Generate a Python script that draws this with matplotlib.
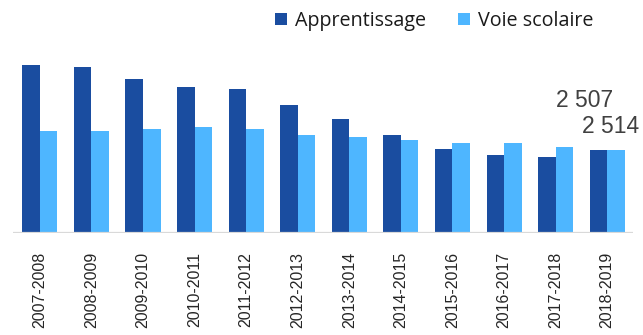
import matplotlib
matplotlib.use("Agg")
import matplotlib.pyplot as plt
import numpy as np

years = ["2007-2008", "2008-2009", "2009-2010", "2010-2011", "2011-2012", "2012-2013",
         "2013-2014", "2014-2015", "2015-2016", "2016-2017", "2017-2018", "2018-2019"]
apprentissage = [5108, 5047, 4682, 4438, 4377, 3899, 3472, 2985, 2559, 2367, 2315, 2507]
voie_scolaire = [3107, 3107, 3168, 3229, 3168, 2976, 2924, 2814, 2741, 2732, 2620, 2514]

dark = "#1A4DA0"
light = "#4EB6FF"

fig = plt.figure(figsize=(6.43, 3.35), dpi=100)
ax = fig.add_axes([13 / 643, 1 - 232.7 / 335, 620 / 643, 197 / 335])

x = np.arange(len(years))
w = 0.34
b1 = ax.bar(x - w / 2, apprentissage, w, color=dark, label="Apprentissage", zorder=2)
b2 = ax.bar(x + w / 2, voie_scolaire, w, color=light, label="Voie scolaire", zorder=2)

ax.set_xlim(-0.52, 11.5)
ax.set_ylim(0, 6000)
ax.axhline(0, color="#d9d9d9", lw=1.6, zorder=3)
for s in ax.spines.values():
    s.set_visible(False)
ax.set_yticks([])
ax.set_xticks(x)
ax.set_xticklabels(years, rotation=90, fontsize=11.5, family="Liberation Sans",
                   color="#262626", va="top")
ax.tick_params(axis="x", length=0, pad=14)

def fmt(v):
    return f"{v:,}".replace(",", " ")

ax.annotate(fmt(apprentissage[-1]), (x[-1] - w / 2, apprentissage[-1]),
            xytext=(-10, 36), textcoords="offset points", ha="center", va="center",
            fontsize=16.5, family="Liberation Sans", color="#404040")
ax.annotate(fmt(voie_scolaire[-1]), (x[-1] + w / 2, voie_scolaire[-1]),
            xytext=(-3.6, 17.3), textcoords="offset points", ha="center", va="center",
            fontsize=16.5, family="Liberation Sans", color="#404040")

leg = fig.legend(handles=[b1, b2], loc="center", bbox_to_anchor=(434 / 643, 1 - 21 / 335),
                 ncol=2, frameon=False, handlelength=0.62, handleheight=0.62,
                 handletextpad=0.4, columnspacing=1.6,
                 prop={"family": "Open Sans", "size": 14.2})
for t in leg.get_texts():
    t.set_color("#1a1a1a")

fig.savefig("out.png", dpi=100)
